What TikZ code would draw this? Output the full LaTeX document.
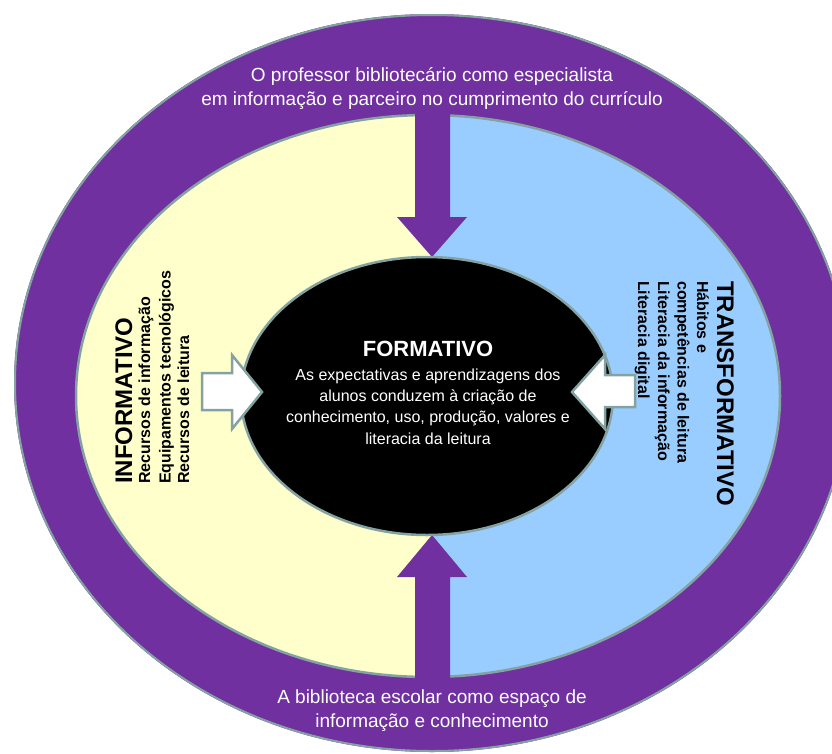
\documentclass[tikz,border=0pt]{standalone}
\usepackage{fontspec}
\setmainfont{Liberation Sans}
\definecolor{ringpurple}{HTML}{7030A0}
\definecolor{paleyellow}{HTML}{FFFFCC}
\definecolor{paleblue}{HTML}{99CCFF}
\definecolor{rimgray}{RGB}{132,162,162}
\begin{document}
\begin{tikzpicture}[x=1pt,y=-1pt,
  rim/.style={draw=rimgray, line width=2.5pt},
  ringtext/.style={font=\fontsize{19}{24}\selectfont, text=white, inner sep=0pt, anchor=base},
  coretitle/.style={font=\bfseries\fontsize{22}{26}\selectfont, text=white, inner sep=0pt, anchor=base},
  coretext/.style={font=\fontsize{16}{21}\selectfont, text=white, inner sep=0pt, anchor=base},
  sidetitle/.style={font=\bfseries\fontsize{24}{28}\selectfont, text=black, inner sep=0pt, anchor=base west},
  sidetext/.style={font=\bfseries\fontsize{16}{19}\selectfont, text=black, inner sep=0pt, anchor=base west},
  whitearrow/.style={fill=white, draw=rimgray, line width=2.5pt, line join=miter}]
\useasboundingbox (0,0) rectangle (832,753);
\fill[white] (0,0) rectangle (832,753);
\begin{scope}
  \clip (0,0) rectangle (832,753);
  % outer ring
  \fill[ringpurple] (432,383) ellipse [x radius=418, y radius=369];
  \draw[draw=rimgray, line width=2pt] (432,383) ellipse [x radius=417, y radius=368];
  % inner halves
  \begin{scope}
    \clip (0,0) rectangle (432,753);
    \fill[paleyellow] (428,396) ellipse [x radius=352, y radius=281];
  \end{scope}
  \begin{scope}
    \clip (432,0) rectangle (832,753);
    \fill[paleblue] (428,396) ellipse [x radius=352, y radius=281];
  \end{scope}
  \draw[rim] (428,396) ellipse [x radius=352, y radius=281];
  % purple arrows
  \fill[ringpurple] (415,104) -- (450,104) -- (450,217) -- (467,217) -- (432,257) -- (397,217) -- (415,217) -- cycle;
  \fill[ringpurple] (432,535) -- (467,577) -- (450,577) -- (450,690) -- (415,690) -- (415,577) -- (397,577) -- cycle;
  % core
  \fill[black] (427,396) ellipse [x radius=186, y radius=139];
  \draw[rim] (427,396) ellipse [x radius=186, y radius=139];
  % white arrows
  \draw[whitearrow] (202,373) -- (232,373) -- (232,355) -- (262,392) -- (232,429) -- (232,410) -- (202,410) -- cycle;
  \draw[whitearrow] (635,375) -- (605,375) -- (605,355) -- (572,392) -- (605,429) -- (605,407) -- (635,407) -- cycle;
\end{scope}
% ring texts
\node[ringtext] (top1) at (432,81.5) {O professor bibliotecário como especialista};
\node[ringtext] (top2) at (432,105.5) {em informação e parceiro no cumprimento do currículo};
\node[ringtext] (bot1) at (432,703) {A biblioteca escolar como espaço de};
\node[ringtext] (bot2) at (432,727) {informação e conhecimento};
% core texts
\node[coretitle] (formativo) at (428,356) {FORMATIVO};
\node[coretext] (core1) at (428,380) {As expectativas e aprendizagens dos};
\node[coretext] (core2) at (428,401.7) {alunos conduzem à criação de};
\node[coretext] (core3) at (428,422.7) {conhecimento, uso, produção, valores e};
\node[coretext] (core4) at (428,444) {literacia da leitura};
% left texts
\node[sidetitle, rotate=90] (informativo) at (132,484) {INFORMATIVO};
\node[sidetext, rotate=90] (left1) at (150,484) {Recursos de informação};
\node[sidetext, rotate=90] (left2) at (170.5,484) {Equipamentos tecnológicos};
\node[sidetext, rotate=90] (left3) at (189,484) {Recursos de leitura};
% right texts
\node[sidetitle, rotate=-90] (transformativo) at (717,281) {TRANSFORMATIVO};
\node[sidetext, rotate=-90] (right1) at (697,281) {Hábitos e};
\node[sidetext, rotate=-90] (right2) at (677.5,281) {competências de leitura};
\node[sidetext, rotate=-90] (right3) at (658,281) {Literacia da informação};
\node[sidetext, rotate=-90] (right4) at (638,281) {Literacia digital};
\end{tikzpicture}
\end{document}
